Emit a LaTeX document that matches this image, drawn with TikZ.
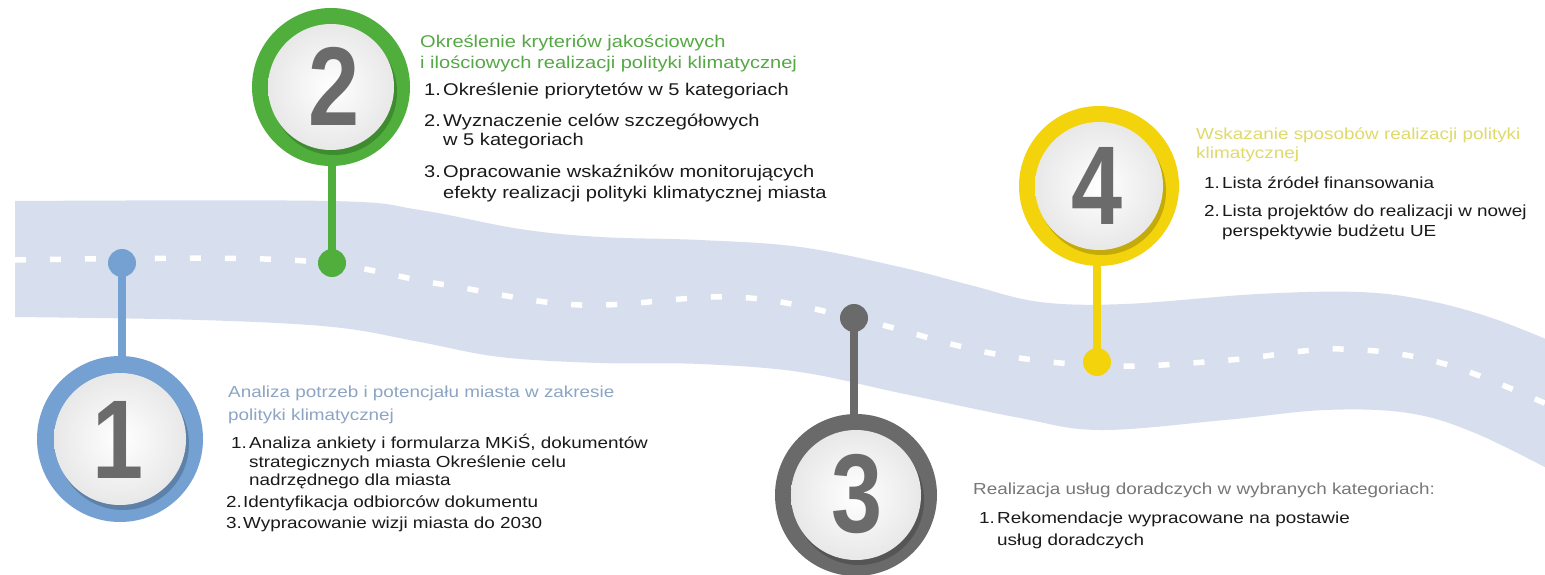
\documentclass[tikz,border=0pt]{standalone}
\usepackage{fontspec}
\setmainfont{Liberation Sans}[FakeStretch=1.18]
\newfontfamily\digitfont{Liberation Sans}[FakeStretch=0.82]
\definecolor{bandc}{HTML}{D7DEEE}
\definecolor{bluec}{HTML}{74A0D2}
\definecolor{greenc}{HTML}{4FAE3C}
\definecolor{grayc}{HTML}{6A6A6A}
\definecolor{yellowc}{HTML}{F3D40C}
\definecolor{headA}{HTML}{8CA5C5}
\definecolor{headB}{HTML}{55A845}
\definecolor{headC}{HTML}{777777}
\definecolor{headD}{HTML}{E0DA6A}
\definecolor{digitc}{HTML}{6B6B6B}
\definecolor{txtc}{HTML}{1A1A1A}
\newcommand{\numbox}[2]{\makebox[#1pt][l]{#2}}
\begin{document}
\begin{tikzpicture}[x=1pt,y=-1pt,
  ringn/.style 2 args={circle, fill=#1, minimum size=#2, inner sep=0pt},
  dotn/.style={circle, fill=#1, minimum size=28pt, inner sep=0pt},
  stemln/.style={draw=#1, line width=8pt},
  txt/.style={anchor=base west, inner sep=0pt, font=\fontsize{16}{19}\selectfont, text=txtc},
  txtb/.style={anchor=base west, inner sep=0pt, font=\fontsize{17}{20}\selectfont, text=txtc},
  bignum/.style={inner sep=0pt, text=digitc, font=\digitfont\bfseries\fontsize{112}{112}\selectfont},
]
\useasboundingbox (0,0) rectangle (1545,575);
\fill[white] (0,0) rectangle (1545,575);

% band
\begin{scope}
\clip (0,0) rectangle (1545,575);
\fill[bandc] plot[smooth, tension=0.6] coordinates {(15,201) (330,201) (420,210) (520,229) (600,237) (700,240) (800,247) (900,267) (970,285) (1040,302) (1125,304) (1258,294) (1358,292) (1425,300) (1492,318) (1560,345)}
  -- plot[smooth, tension=0.6] coordinates {(1560,475) (1475,433) (1408,413) (1325,410) (1225,420) (1100,430) (1020,418) (900,393) (800,372) (700,364) (600,363) (500,357) (420,342) (333,327) (200,320) (15,317)} -- cycle;
\draw[white, line width=5.5pt, dash pattern=on 11pt off 24pt] plot[smooth, tension=0.6] coordinates {(15,260) (290,260) (440,284) (580,305) (735,297) (854,318) (990,353) (1110,366) (1230,360) (1340,349) (1445,364) (1560,410)};
\end{scope}

% dots and rings
\node[dotn=bluec] (d1) at (122,263) {};
\node[dotn=greenc] (d2) at (332,263) {};
\node[dotn=grayc] (d3) at (854,318) {};
\node[dotn=yellowc] (d4) at (1097,362) {};

\node[ringn={bluec}{166pt}] (r1) at (120,439) {};
\node[ringn={greenc}{158pt}] (r2) at (331,87) {};
\node[ringn={grayc}{162pt}] (r3) at (856,495) {};
\node[ringn={yellowc}{160pt}] (r4) at (1099,186) {};

\draw[stemln=bluec] (d1.center) -- (r1.north -| d1.center);
\draw[stemln=greenc] (d2.center) -- (r2.south -| d2.center);
\draw[stemln=grayc] (d3.center) -- (r3.north -| d3.center);
\draw[stemln=yellowc] (d4.center) -- (r4.south -| d4.center);

% shadows and white discs
\foreach \r/\c/\rad in {r1/bluec/66pt, r2/greenc/63pt, r3/grayc/65pt, r4/yellowc/64pt}{
  \fill[\c!65!black, opacity=0.55] ([xshift=3pt,yshift=-5pt]\r.center) circle[radius=\rad];
  \shade[inner color=white, outer color=black!9] (\r.center) circle[radius=\rad];
}

\node[bignum] (n1) at (118,440) {1};
\node[bignum] (n2) at (334,86) {2};
\node[bignum] (n3) at (857,494) {3};
\node[bignum] (n4) at (1097,186) {4};

% block 1
\node[txt, text=headA] (a1) at (228,397) {Analiza potrzeb i potencjału miasta w zakresie};
\node[txt, text=headA] (a2) at (228,420) {polityki klimatycznej};
\node[txt] (a3) at (231,448) {\numbox{18}{1.}Analiza ankiety i formularza MKiŚ, dokumentów};
\node[txt] (a4) at (249,467) {strategicznych miasta Określenie celu};
\node[txt] (a5) at (249,485) {nadrzędnego dla miasta};
\node[txt] (a6) at (226,507) {\numbox{17}{2.}Identyfikacja odbiorców dokumentu};
\node[txt] (a7) at (226,528) {\numbox{17}{3.}Wypracowanie wizji miasta do 2030};

% block 2
\node[txtb, text=headB] (b1) at (420,48) {Określenie kryteriów jakościowych};
\node[txtb, text=headB] (b2) at (420,69) {i ilościowych realizacji polityki klimatycznej};
\node[txtb] (b3) at (424,96) {\numbox{19}{1.}Określenie priorytetów w 5 kategoriach};
\node[txtb] (b4) at (424,127) {\numbox{19}{2.}Wyznaczenie celów szczegółowych};
\node[txtb] (b5) at (443,146) {w 5 kategoriach};
\node[txtb] (b6) at (424,177) {\numbox{19}{3.}Opracowanie wskaźników monitorujących};
\node[txtb] (b7) at (443,198) {efekty realizacji polityki klimatycznej miasta};

% block 3
\node[txt, text=headC] (c1) at (973,494) {Realizacja usług doradczych w wybranych kategoriach:};
\node[txt] (c2) at (979,523) {\numbox{18}{1.}Rekomendacje wypracowane na postawie};
\node[txt] (c3) at (997,545) {usług doradczych};

% block 4
\node[txt, text=headD] (e1) at (1196,140) {Wskazanie sposobów realizacji polityki};
\node[txt, text=headD] (e2) at (1196,159) {klimatycznej};
\node[txt] (e3) at (1204,188) {\numbox{18}{1.}Lista źródeł finansowania};
\node[txt] (e4) at (1204,216) {\numbox{18}{2.}Lista projektów do realizacji w nowej};
\node[txt] (e5) at (1222,236) {perspektywie budżetu UE};
\end{tikzpicture}
\end{document}
